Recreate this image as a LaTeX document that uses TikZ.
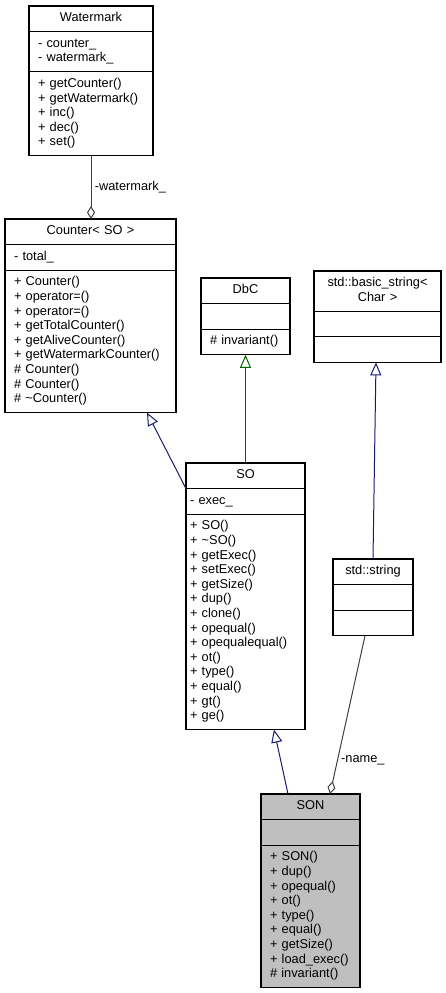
\documentclass[tikz,border=0pt]{standalone}
\usepackage{fontspec}
\setmainfont{Liberation Sans}
\usepackage{tikz}
\usetikzlibrary{arrows.meta, positioning}
\definecolor{EdgeBlue}{HTML}{191970}
\definecolor{EdgeGreen}{HTML}{006400}
\definecolor{EdgeGrey}{HTML}{404040}
\definecolor{FocusGrey}{HTML}{BFBFBF}

\tikzset{
  umlfont/.style={font=\fontsize{12.8}{14.6}\selectfont},
  umltitle/.style={draw, line width=1.2pt, outer sep=0pt, inner xsep=9pt, inner ysep=5.5pt,
    text width=#1, align=center, anchor=north, umlfont,
    execute at begin node=\strut, execute at end node=\strut},
  umlpart/.style={umltitle=#1, align=left},
  inherit/.style={line width=1pt, -{Triangle[open, length=13pt, width=11pt]}},
  aggr/.style={EdgeGrey, line width=1pt, -{Diamond[fill=white, length=13pt, width=8pt]}},
  edgelabel/.style={umlfont, text=black, right}
}

\begin{document}
\begin{tikzpicture}[x=1pt, y=-1pt]
  \useasboundingbox (0,0) rectangle (446,993);

  % Watermark
  \node[umltitle=106pt] (wmT) at (91,6) {Watermark};
  \node[umlpart=106pt, below=0pt of wmT] (wmA) {- counter\_\\- watermark\_};
  \node[umlpart=106pt, below=0pt of wmA] (wmM) {+ getCounter()\\+ getWatermark()\\+ inc()\\+ dec()\\+ set()};

  % Counter< SO >
  \node[umltitle=153pt] (cntT) at (90.5,219) {Counter< SO >};
  \node[umlpart=153pt, below=0pt of cntT] (cntA) {- total\_};
  \node[umlpart=153pt, below=0pt of cntA] (cntM) {+ Counter()\\+ operator=()\\+ operator=()\\+ getTotalCounter()\\+ getAliveCounter()\\+ getWatermarkCounter()\\\# Counter()\\\# Counter()\\\# \textasciitilde Counter()};

  % DbC
  \node[umltitle=71pt] (dbcT) at (245.5,278) {DbC};
  \node[umlpart=71pt, below=0pt of dbcT] (dbcA) {};
  \node[umlpart=71pt, below=0pt of dbcA] (dbcM) {\# invariant()};

  % std::basic_string< Char >
  \node[umltitle=109pt] (bsT) at (377.5,271) {std::basic\_string<\\Char >};
  \node[umlpart=109pt, below=0pt of bsT] (bsA) {};
  \node[umlpart=109pt, below=0pt of bsA] (bsM) {};

  % SO
  \node[umltitle=111pt, inner xsep=4pt] (soT) at (245.5,463) {SO};
  \node[umlpart=111pt, inner xsep=4pt, below=0pt of soT] (soA) {- exec\_};
  \node[umlpart=111pt, inner xsep=4pt, below=0pt of soA] (soM) {+ SO()\\+ \textasciitilde SO()\\+ getExec()\\+ setExec()\\+ getSize()\\+ dup()\\+ clone()\\+ opequal()\\+ opequalequal()\\+ ot()\\+ type()\\+ equal()\\+ gt()\\+ ge()};

  % std::string
  \node[umltitle=62pt] (strT) at (373,559) {std::string};
  \node[umlpart=62pt, below=0pt of strT] (strA) {};
  \node[umlpart=62pt, below=0pt of strA] (strM) {};

  % SON
  \node[umltitle=81pt, fill=FocusGrey] (sonT) at (310.5,794) {SON};
  \node[umlpart=81pt, fill=FocusGrey, below=0pt of sonT] (sonA) {};
  \node[umlpart=81pt, fill=FocusGrey, below=0pt of sonA] (sonM) {+ SON()\\+ dup()\\+ opequal()\\+ ot()\\+ type()\\+ equal()\\+ getSize()\\+ load\_exec()\\\# invariant()};

  % connectors
  \draw[aggr] (wmM.south) -- node[edgelabel] {-watermark\_} (wmM.south |- cntT.north);
  \draw[inherit, EdgeBlue] (soT.south west) -- ([xshift=-29pt]cntM.south east);
  \draw[inherit, EdgeGreen] (soT.north) -- (dbcM.south);
  \draw[inherit, EdgeBlue] (strT.north) -- ([xshift=-1.5pt]bsM.south);
  \draw[inherit, EdgeBlue] ([xshift=-22.5pt]sonT.north) -- ([xshift=28.5pt]soM.south);
  \draw[aggr] ([xshift=-8pt]strM.south) -- node[edgelabel, pos=0.79] {-name\_} ([xshift=19.5pt]sonT.north);
\end{tikzpicture}
\end{document}
